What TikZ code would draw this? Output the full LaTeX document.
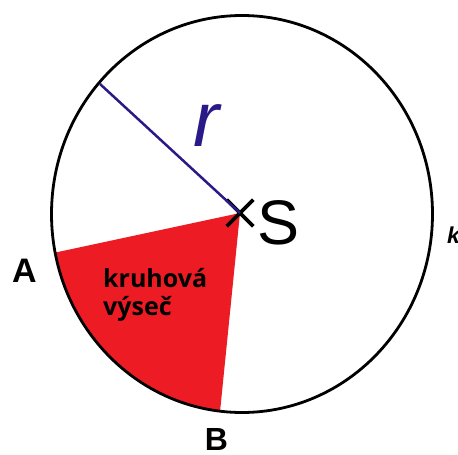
\documentclass[tikz,border=0pt]{standalone}
\usepackage{fontspec}
\setmainfont{Liberation Sans}
\newfontfamily\sectorfont{Open Sans}
\usetikzlibrary{shapes.misc}
\definecolor{sectorred}{HTML}{ED1C24}
\definecolor{radiusblue}{RGB}{42,26,135}

\begin{document}
\begin{tikzpicture}[
  x=1pt, y=-1pt,
  circleline/.style={line width=2.8pt, black},
  sector/.style={fill=sectorred},
  radiusline/.style={line width=2.5pt, radiusblue},
  centermark/.style={draw, cross out, line width=3.6pt, minimum size=23pt,
                     inner sep=0pt},
  pointlabel/.style={inner sep=0pt, font=\fontsize{34}{34}\selectfont\bfseries},
  sectorlabel/.style={inner sep=0pt, anchor=base west,
                      font=\sectorfont\fontsize{25}{28}\selectfont\bfseries},
]
\useasboundingbox (0,0) rectangle (458,455);

\coordinate (O) at (242,214);
\coordinate (A) at (55.1,252.6);
\coordinate (R) at (100,84);

% sector S-A-B
\fill[sector] (240,213) -- (A)
  arc[start angle=168.8, end angle=96.6, x radius=190.5, y radius=198.5] -- cycle;

\draw[circleline] (O) ellipse[x radius=190.5, y radius=198.5];

\node[centermark] (S) at (240,213) {};
\draw[radiusline] (S.center) -- (R);

\node[inner sep=0pt, text=radiusblue, font=\fontsize{78}{78}\selectfont\itshape]
  (r) at (206,126) {r};
\node[inner sep=0pt, font=\fontsize{63}{63}\selectfont] (Slabel) at (279,222.5) {S};

\node[pointlabel] (Alabel) at (24.5,270.5) {A};
\node[pointlabel, font=\fontsize{32}{32}\selectfont\bfseries] (Blabel) at (216.5,439.5) {B};
\node[inner sep=0pt, anchor=west, font=\fontsize{23}{23}\selectfont\bfseries\itshape]
  (k) at (447,235.5) {k};

\node[sectorlabel] (kruhova) at (103,287) {kruhová};
\node[sectorlabel] (vysec) at (103,315) {výseč};

\end{tikzpicture}
\end{document}
